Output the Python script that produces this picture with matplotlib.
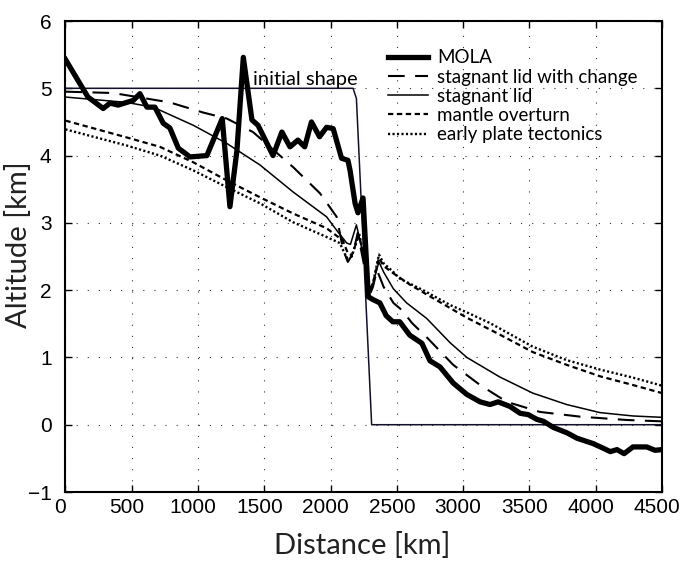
import numpy as np
import matplotlib
matplotlib.use("Agg")
import matplotlib.pyplot as plt
from matplotlib.transforms import ScaledTranslation

# topography profiles across the dichotomy boundary (distance km, altitude km)
mola_x = [0, 170, 285, 337, 398, 462, 512, 562, 615, 675, 738, 788, 852, 940,
          1067, 1183, 1241, 1294, 1342, 1407, 1453, 1566, 1633, 1694, 1754, 1805,
          1856, 1917, 1970, 2020, 2083, 2131, 2147, 2185, 2207, 2245, 2285, 2320,
          2372, 2420, 2470, 2522, 2598, 2689, 2750, 2825, 2925, 3028, 3128, 3203,
          3264, 3355, 3430, 3491, 3556, 3607, 3680, 3783, 3858, 3980, 4047, 4110,
          4160, 4214, 4281, 4385, 4447, 4500]
mola_y = [5.43, 4.87, 4.70, 4.78, 4.75, 4.79, 4.82, 4.92, 4.72, 4.72, 4.48, 4.41,
          4.11, 3.98, 4.00, 4.55, 3.24, 4.08, 5.46, 4.53, 4.45, 4.00, 4.35, 4.13,
          4.23, 4.13, 4.50, 4.28, 4.42, 4.40, 3.96, 3.93, 3.78, 3.29, 3.15, 3.37,
          1.90, 1.86, 1.81, 1.62, 1.53, 1.53, 1.33, 1.21, 0.95, 0.86, 0.62, 0.45,
          0.34, 0.30, 0.34, 0.27, 0.17, 0.15, 0.08, 0.05, -0.04, -0.12, -0.20,
          -0.28, -0.34, -0.40, -0.37, -0.43, -0.33, -0.33, -0.38, -0.37]

change_x = [0, 360, 788, 1039, 1218, 1415, 1717, 1920, 2046, 2095, 2130, 2170,
            2205, 2250, 2290, 2320, 2350, 2400, 2474, 2540, 2615, 2735, 2925,
            3128, 3329, 3580, 3882, 4236, 4500]
change_y = [4.95, 4.93, 4.79, 4.64, 4.55, 4.35, 3.83, 3.44, 3.09, 2.60, 2.42,
            2.55, 2.85, 2.40, 1.90, 2.05, 2.30, 2.05, 1.81, 1.70, 1.51, 1.28,
            0.89, 0.59, 0.34, 0.19, 0.12, 0.07, 0.05]

lid_x = [0, 462, 662, 965, 1218, 1468, 1717, 1970, 2046, 2122, 2150, 2195, 2250,
         2290, 2320, 2365, 2400, 2474, 2574, 2725, 2901, 3028, 3276, 3525, 3781,
         4032, 4281, 4500]
lid_y = [4.87, 4.79, 4.72, 4.45, 4.18, 3.86, 3.46, 3.09, 2.89, 2.70, 2.68, 2.97,
         2.50, 2.00, 2.10, 2.42, 2.27, 2.02, 1.81, 1.58, 1.22, 1.00, 0.71, 0.47,
         0.30, 0.18, 0.13, 0.11]

overturn_x = [0, 462, 713, 965, 1218, 1468, 1717, 1970, 2092, 2130, 2160, 2215,
              2260, 2295, 2320, 2365, 2400, 2474, 2600, 2774, 3028, 3276, 3525,
              3781, 4032, 4281, 4500]
overturn_y = [4.52, 4.27, 4.13, 3.90, 3.63, 3.38, 3.14, 2.92, 2.74, 2.55, 2.52,
              2.82, 2.40, 2.00, 2.10, 2.48, 2.36, 2.25, 2.08, 1.88, 1.59, 1.34,
              1.08, 0.89, 0.72, 0.59, 0.47]

plate_x = [0, 462, 713, 965, 1218, 1468, 1717, 1970, 2070, 2122, 2160, 2215,
           2260, 2295, 2320, 2365, 2400, 2474, 2523, 2698, 2901, 3028, 3203,
           3525, 3781, 4032, 4281, 4500]
plate_y = [4.39, 4.15, 4.00, 3.78, 3.53, 3.29, 3.01, 2.79, 2.70, 2.48, 2.50,
           2.85, 2.40, 2.00, 2.10, 2.53, 2.40, 2.27, 2.17, 2.00, 1.78, 1.67,
           1.51, 1.16, 0.96, 0.82, 0.70, 0.58]

init_x = [0, 2170, 2195, 2310, 4500]
init_y = [5.0, 5.0, 4.85, 0.0, 0.0]

labels = ["MOLA", "stagnant lid with change", "stagnant lid",
          "mantle overturn", "early plate tectonics"]

xticks = np.arange(0, 4501, 500)
yticks = np.arange(-1, 7, 1)

fig = plt.figure(figsize=(6.87, 5.65), dpi=100)
ax = fig.add_axes([0.0952, 0.1292, 0.8684, 0.8336])

ax.plot(init_x, init_y, color="#10102a", lw=1.1)
ax.plot(mola_x, mola_y, color="k", lw=3.8, label=labels[0])
ax.plot(change_x, change_y, color="k", lw=1.5, ls=(0, (8, 5)), label=labels[1])
ax.plot(lid_x, lid_y, color="k", lw=1.1, label=labels[2])
ax.plot(overturn_x, overturn_y, color="k", lw=1.6, ls=(0, (2.4, 1.6)), label=labels[3])
ax.plot(plate_x, plate_y, color="k", lw=1.7, ls=(0, (0.9, 1.0)), label=labels[4])

ax.text(1415, 5.05, "initial shape", fontsize=14.5, family="Lato", va="baseline")

ax.set_xlim(0, 4500)
ax.set_ylim(-1, 6)
ax.set_xticks(xticks)
ax.set_yticks(yticks)
ax.grid(True, color="#333333", lw=0.8, ls=(0, (1, 9)))
ax.tick_params(direction="in", length=5, width=1, top=True, right=True,
               labelsize=15)
ax.tick_params(axis="x", pad=4)
ax.tick_params(axis="y", pad=10)
for sp in ax.spines.values():
    sp.set_linewidth(1.5)
for lab in ax.get_xticklabels() + ax.get_yticklabels():
    lab.set_family("Liberation Sans")
shift = ScaledTranslation(-0.05, 0, fig.dpi_scale_trans)
for lab in ax.get_xticklabels():
    lab.set_transform(lab.get_transform() + shift)

fig.text(362 / 687, 1 - 545 / 565, "Distance [km]", fontsize=21, family="Lato",
         ha="center", va="center", color="#222222")
fig.text(19 / 687, 1 - 245 / 565, "Altitude [km]", fontsize=21, family="Lato",
         ha="center", va="center", rotation=90, color="#222222")

ax.legend(loc="upper left", bbox_to_anchor=(0.541, 0.940), frameon=False,
          prop={"family": "Lato", "size": 13.5}, handlelength=2.1,
          handletextpad=0.5, labelspacing=0.12, borderpad=0, borderaxespad=0)

fig.savefig("out.png", dpi=100)
